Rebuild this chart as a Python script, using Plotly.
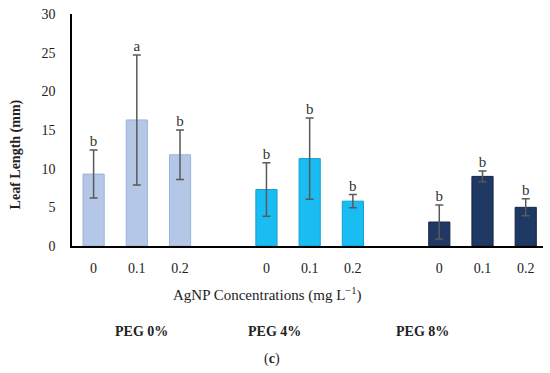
import plotly.graph_objects as go

# Data
groups = ["PEG 0%", "PEG 4%", "PEG 8%"]
concentrations = ["0", "0.1", "0.2"]
leaf_length = [
    [9.3, 16.3, 11.8],   # PEG 0%
    [7.3, 11.3, 5.8],    # PEG 4%
    [3.1, 9.0, 5.0],     # PEG 8%
]
std_err = [
    [3.1, 8.4, 3.2],
    [3.45, 5.25, 0.85],
    [2.2, 0.7, 1.1],
]
letters = [
    ["b", "a", "b"],
    ["b", "b", "b"],
    ["b", "b", "b"],
]
colors = ["#B4C7E7", "#19BDF2", "#203864"]
line_colors = ["#9CB2DA", "#0F9FD6", "#14264A"]

SERIF = "'Liberation Serif', 'DejaVu Serif', serif"
TXT = "#222222"

fig = go.Figure()
all_x, all_text = [], []
for gi, g in enumerate(groups):
    xs = [gi * 4 + ci for ci in range(len(concentrations))]
    fig.add_trace(go.Bar(
        x=xs, y=leaf_length[gi], width=0.49, name=g,
        marker=dict(color=colors[gi], line=dict(color=line_colors[gi], width=1)),
        error_y=dict(type="data", array=std_err[gi], visible=True,
                     color="#595959", thickness=1.5, width=4),
        showlegend=False,
    ))
    fig.add_trace(go.Scatter(
        x=xs, y=[v + e for v, e in zip(leaf_length[gi], std_err[gi])],
        mode="text", text=letters[gi], textposition="top center",
        textfont=dict(family=SERIF, size=15, color="#333333"),
        showlegend=False, hoverinfo="skip", cliponaxis=False,
    ))
    all_x += xs
    all_text += concentrations

plot_l, plot_r = 72, 543
plot_t, plot_b = 11, 245.6
W, H = 550, 373
ph = plot_b - plot_t

def px(x):
    return (x - plot_l) / (plot_r - plot_l)

def py(y):
    return (plot_b - y) / ph

fig.update_layout(
    width=W, height=H,
    margin=dict(l=plot_l, r=W - plot_r, t=plot_t, b=H - plot_b),
    paper_bgcolor="white", plot_bgcolor="white",
    font=dict(family=SERIF, size=14, color=TXT),
    xaxis=dict(
        range=[-0.5, 10.4], tickmode="array", tickvals=all_x, ticktext=all_text,
        showline=True, linecolor="black", linewidth=1.5, showgrid=False,
        zeroline=False, ticks="", ticklabelstandoff=8,
        tickfont=dict(family=SERIF, size=14, color=TXT),
    ),
    yaxis=dict(
        range=[0, 30], dtick=5, showline=True, linecolor="black", linewidth=1.5,
        showgrid=False, zeroline=False, ticks="", ticklabelstandoff=12,
        tickfont=dict(family=SERIF, size=14, color=TXT),
    ),
    annotations=[
        dict(text="<b>Leaf Length (mm)</b>", x=px(16), y=py(153),
             xref="paper", yref="paper", textangle=-90, showarrow=False,
             font=dict(family=SERIF, size=14, color=TXT), yanchor="middle",
             xanchor="center"),
        dict(text="AgNP Concentrations (mg L<sup>−1</sup>)", x=px(267), y=py(295),
             xref="paper", yref="paper", showarrow=False, yanchor="middle",
             font=dict(family=SERIF, size=15, color=TXT)),
        dict(text="<b>PEG 0%</b>", x=px(113), y=py(332),
             xref="paper", yref="paper", showarrow=False, yanchor="middle",
             font=dict(family=SERIF, size=14, color=TXT)),
        dict(text="<b>PEG 4%</b>", x=px(274), y=py(332),
             xref="paper", yref="paper", showarrow=False, yanchor="middle",
             font=dict(family=SERIF, size=14, color=TXT)),
        dict(text="<b>PEG 8%</b>", x=px(451), y=py(332),
             xref="paper", yref="paper", showarrow=False, yanchor="middle",
             font=dict(family=SERIF, size=14, color=TXT)),
        dict(text="(<b>c</b>)", x=px(272), y=py(360),
             xref="paper", yref="paper", showarrow=False, yanchor="middle",
             font=dict(family=SERIF, size=14, color=TXT)),
    ],
)

fig.write_html(
    "out.html",
    config={"displayModeBar": False},
    post_script="document.body.style.margin='0';document.body.style.padding='0';",
)
